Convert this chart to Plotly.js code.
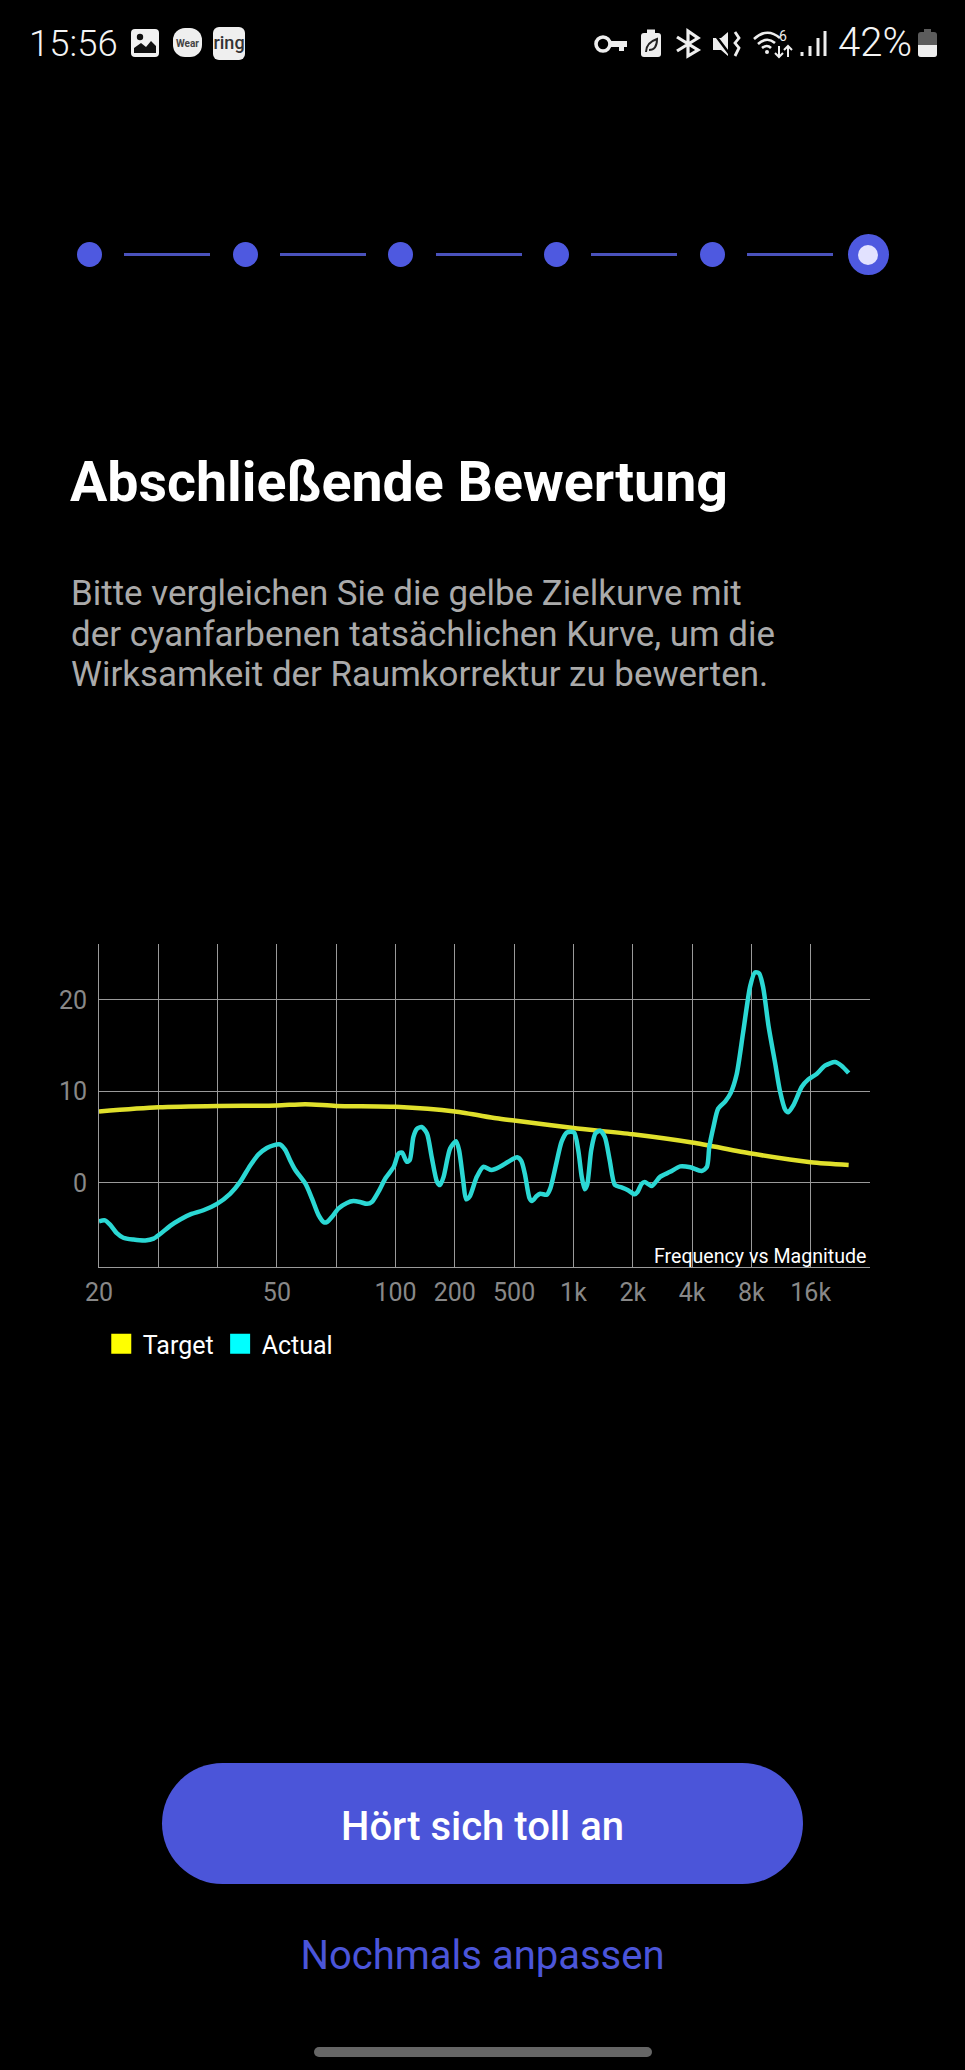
<!DOCTYPE html>
<html><head><meta charset="utf-8">
<script src="https://cdn.plot.ly/plotly-3.0.1.min.js"></script>
<style>
html,body{margin:0;padding:0;background:#000;width:965px;height:2070px;overflow:hidden;font-family:Roboto,sans-serif}
.t{position:absolute;white-space:nowrap}
.dot{position:absolute;width:25px;height:25px;border-radius:50%;background:#4e59e0;top:241.5px}
.ln{position:absolute;height:3px;width:86px;top:252.5px;background:#4a52bc}
svg.i{position:absolute;overflow:visible}
</style></head><body>
<div class="t" style="left:29px;top:23px;font-size:36.5px;font-weight:300;color:#f4f4f4;line-height:42px">15:56</div>
<svg class="i" style="left:0;top:0" width="965" height="80">
  <rect x="131" y="29" width="28" height="28" rx="4" fill="#f2f2f2"/>
  <circle cx="140" cy="37" r="3.2" fill="#111"/>
  <path d="M134 53 L134 48 L141 43 L146 47 L151 41 L156 46 L156 53 Z" fill="#111"/>
  <rect x="173" y="28" width="29" height="29" rx="12" fill="#efefef"/>
  <text x="187.5" y="46.5" text-anchor="middle" font-size="10" font-weight="700" fill="#444" font-family="Roboto">Wear</text>
  <rect x="213" y="27" width="32" height="33" rx="6" fill="#efefef"/>
  <text x="229" y="49" text-anchor="middle" font-size="18" font-weight="500" fill="#333" font-family="Roboto">ring</text>
  <circle cx="603" cy="44" r="7" fill="none" stroke="#eee" stroke-width="3.6"/>
  <path d="M610 41 H627 V47 H624 V51 H619 V47 H610 Z" fill="#eee"/>
  <rect x="641" y="33" width="20" height="24" rx="3" fill="#eee"/><rect x="647" y="29.5" width="8" height="4" fill="#eee"/>
  <path d="M646 52 C646 44 651 41 657 39 C657 47 654 50 649 50" fill="none" stroke="#222" stroke-width="2"/>
  <path d="M677 37 L698 50 L688 56 L688 31 L698 38 L677 51" fill="none" stroke="#eee" stroke-width="3.2"/>
  <path d="M713 38 H721 L728 32 V56 L721 50 H713 Z" fill="#eee"/><path d="M713 32 L731 56" stroke="#000" stroke-width="2.5"/>
  <path d="M735 32 L739 38 L735 43 L739 48 L735 56" fill="none" stroke="#eee" stroke-width="2.8"/>
  <path d="M754 39 Q767 27 780 38 M758 44 Q767 36 775 43 M762 48 Q767 44 771 48" fill="none" stroke="#eee" stroke-width="2.6"/>
  <circle cx="767" cy="52" r="2" fill="#eee"/>
  <text x="783" y="41" font-size="14" fill="#eee" font-family="Roboto" text-anchor="middle">6</text>
  <path d="M779 46 V57 M775 53 L779 57 L783 53 M788 57 V46 M784 50 L788 46 L792 50" fill="none" stroke="#eee" stroke-width="2"/>
  <path d="M802 52 V56 M810 46 V56 M818 38 V56 M825 31 V56" stroke="#eee" stroke-width="3" fill="none"/>
  <rect x="918" y="32" width="19" height="25" rx="3" fill="#5c5c5c"/><rect x="924" y="29" width="7" height="4" fill="#5c5c5c"/>
  <path d="M918 45 H937 V54 a3 3 0 0 1 -3 3 H921 a3 3 0 0 1 -3 -3 Z" fill="#eee"/>
</svg>
<div class="t" style="left:838px;top:20px;font-size:40px;font-weight:300;color:#f4f4f4;line-height:46px">42%</div>

<div class="dot" style="left:76.5px"></div><div class="ln" style="left:124px"></div>
<div class="dot" style="left:232.5px"></div><div class="ln" style="left:280px"></div>
<div class="dot" style="left:388px"></div><div class="ln" style="left:436px"></div>
<div class="dot" style="left:543.5px"></div><div class="ln" style="left:591px"></div>
<div class="dot" style="left:699.5px"></div><div class="ln" style="left:747px"></div>
<div style="position:absolute;left:847.5px;top:234px;width:41px;height:41px;border-radius:50%;background:#4e59e0"></div>
<div style="position:absolute;left:858px;top:244.5px;width:20px;height:20px;border-radius:50%;background:#e2e2ff"></div>

<div class="t" style="left:70px;top:452px;font-size:55.5px;font-weight:700;color:#fff;line-height:62px">Abschließende Bewertung</div>
<div class="t" style="left:71px;top:574px;font-size:34.9px;color:#aaa;line-height:40.5px">Bitte vergleichen Sie die gelbe Zielkurve mit<br>der cyanfarbenen tatsächlichen Kurve, um die<br>Wirksamkeit der Raumkorrektur zu bewerten.</div>

<div id="chart" style="position:absolute;left:0;top:900px;width:965px;height:500px"></div>

<div style="position:absolute;left:162px;top:1763px;width:641px;height:121px;border-radius:60.5px;background:#4b55d9"></div>
<div class="t" style="left:162px;width:641px;top:1766px;text-align:center;line-height:121px;font-size:40px;font-weight:500;color:#fff">Hört sich toll an</div>
<div class="t" style="left:162px;width:641px;top:1926px;text-align:center;line-height:60px;font-size:40px;color:#4b55d9">Nochmals anpassen</div>
<div style="position:absolute;left:314px;top:2047px;width:338px;height:10px;border-radius:5px;background:#666"></div>

<script>
// positions are on the chart's evenly spaced tick ladder (one unit per gridline)
var tickPositions = [0,1,2,3,4,5,6,7,8,9,10,11,12,13];
var tickLabels = ['20','','','50','','100','200','500','1k','2k','4k','8k','16k',''];
var targetX = [0,1,2,3,3.48,4,5,6,6.7,7,8,9,10,11,12,12.64];
var targetY = [7.8,8.25,8.4,8.45,8.6,8.4,8.3,7.8,7.05,6.8,6.0,5.3,4.4,3.2,2.25,1.95];
var actualX = [0,0.10,0.19,0.30,0.41,0.58,0.78,0.92,1.03,1.20,1.37,1.56,1.76,1.99,2.21,2.38,2.55,2.69,2.83,2.94,3.05,3.14,3.22,3.31,3.48,3.59,3.70,3.79,3.84,3.93,4.04,4.18,4.29,4.40,4.52,4.60,4.71,4.83,4.97,5.05,5.11,5.19,5.24,5.30,5.36,5.44,5.53,5.61,5.70,5.75,5.81,5.92,6.02,6.07,6.14,6.19,6.25,6.37,6.48,6.62,6.76,6.90,7.05,7.12,7.18,7.26,7.30,7.38,7.44,7.55,7.61,7.71,7.80,7.89,8.01,8.08,8.14,8.19,8.23,8.30,8.37,8.45,8.53,8.61,8.70,8.81,8.92,9.03,9.08,9.15,9.20,9.32,9.46,9.63,9.80,9.97,10.16,10.25,10.29,10.36,10.44,10.56,10.65,10.75,10.86,10.98,11.06,11.13,11.20,11.29,11.40,11.48,11.57,11.62,11.71,11.85,11.96,12.10,12.24,12.41,12.52,12.64];
var actualY = [-4.2,-4.1,-4.6,-5.5,-6.0,-6.2,-6.3,-6.1,-5.6,-4.7,-4.0,-3.4,-3.0,-2.3,-1.2,0.1,1.9,3.1,3.8,4.1,4.2,3.6,2.5,1.4,-0.1,-1.7,-3.5,-4.3,-4.3,-3.7,-2.8,-2.2,-2.0,-2.1,-2.3,-2.1,-1.0,0.5,1.75,3.2,3.3,2.3,2.5,5.0,5.9,6.1,5.4,2.8,0.1,-0.25,0.65,3.75,4.55,3.6,0.3,-1.8,-1.5,0.65,1.75,1.4,1.75,2.3,2.8,2.4,1.0,-1.7,-2.0,-1.45,-1.2,-1.3,-0.6,2.1,4.5,5.5,5.5,3.6,0.65,-0.7,-0.25,3.6,5.4,5.7,5.0,2.5,-0.25,-0.5,-0.8,-1.25,-1.0,-0.1,0.1,-0.35,0.65,1.2,1.8,1.7,1.3,1.75,3.9,6.1,8.1,8.9,9.8,11.8,16.4,21.5,23.0,22.9,21.3,17.1,13.1,10.1,8.0,7.7,8.5,10.5,11.3,11.9,12.8,13.2,12.8,12.0];
var gridColor = '#9a9a9a';
Plotly.newPlot('chart', [
  {x:targetX,y:targetY,mode:'lines',name:'Target',showlegend:false,line:{color:'#e0e02c',width:4.5,shape:'spline',smoothing:0.7},hoverinfo:'skip'},
  {x:actualX,y:actualY,mode:'lines',name:'Actual',showlegend:false,line:{color:'#2bd8d4',width:4.5,shape:'spline',smoothing:0.7},hoverinfo:'skip'},
  {x:[null],y:[null],mode:'markers',name:'Target',marker:{symbol:'square',size:16,color:'#ffff00',line:{color:'#ffff00',width:4}}},
  {x:[null],y:[null],mode:'markers',name:'Actual',marker:{symbol:'square',size:16,color:'#00ffff',line:{color:'#00ffff',width:4}}}
],{
  width:965,height:500,
  paper_bgcolor:'#000',plot_bgcolor:'#000',
  margin:{l:99,r:95,t:44,b:133,pad:0},
  font:{family:'Roboto',color:'#888',size:25},
  xaxis:{range:[0,13],tickmode:'array',tickvals:tickPositions,ticktext:tickLabels,showgrid:true,gridcolor:gridColor,gridwidth:1,zeroline:false,showline:true,linecolor:gridColor,linewidth:1,ticks:'',ticklabelstandoff:3,tickfont:{size:25,color:'#888'},mirror:false,fixedrange:true},
  yaxis:{range:[-9.2,26.1],tickmode:'array',tickvals:[0,10,20],ticktext:['0','10','20'],showgrid:true,gridcolor:gridColor,gridwidth:1,zeroline:false,showline:true,linecolor:gridColor,linewidth:1,ticks:'',ticklabelstandoff:6,tickfont:{size:25,color:'#888'},fixedrange:true},
  showlegend:true,
  legend:{orientation:'h',x:0.001,xanchor:'left',y:-0.1675,yanchor:'top',itemwidth:33,font:{size:25,color:'#fff'},bgcolor:'rgba(0,0,0,0)',itemclick:false,itemdoubleclick:false},
  annotations:[{xref:'paper',yref:'paper',x:0.993,y:0.005,xanchor:'right',yanchor:'bottom',xshift:3,yshift:-5,showarrow:false,text:'Frequency vs Magnitude',font:{size:19.6,color:'#fff',family:'Roboto'},bgcolor:'rgba(0,0,0,0)'}]
},{displayModeBar:false,staticPlot:true});
</script>
</body></html>
